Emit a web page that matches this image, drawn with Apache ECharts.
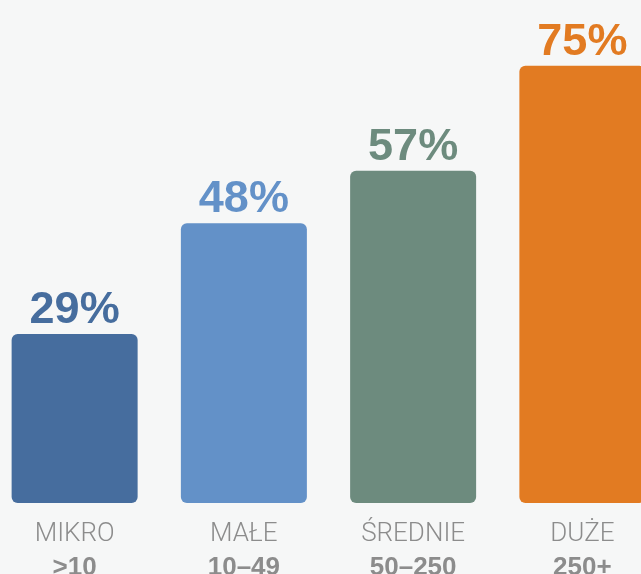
<!DOCTYPE html>
<html>
<head>
<meta charset="utf-8">
<script src="https://cdn.jsdelivr.net/npm/echarts@6/dist/echarts.min.js"></script>
<style>
  html, body { margin: 0; padding: 0; background: #f6f7f7; overflow: hidden; }
  body { width: 641px; height: 574px; position: relative; }
  #chart { position: absolute; left: -10px; top: 0; width: 677px; height: 574px; }
</style>
</head>
<body>
<div id="chart"></div>
<script>
const categories = ['MIKRO', 'MAŁE', 'ŚREDNIE', 'DUŻE'];
const ranges = ['>10', '10–49', '50–250', '250+'];
const values = [29, 48, 57, 75];

const COLORS = ['#466d9e', '#6391c8', '#6d8b7e', '#e27b22'];

const chart = echarts.init(document.getElementById('chart'));

const option = {
  backgroundColor: '#f6f7f7',
  animation: false,
  grid: {
    left: 0,
    right: 0,
    top: 0,
    bottom: 71,
    outerBoundsMode: 'none',
    containLabel: false,
  },
  xAxis: {
    type: 'category',
    data: categories,
    axisLine: { show: false },
    axisTick: { show: false },
    axisLabel: {
      margin: 14,
      interval: 0,
      formatter: (value, index) => `{a|${value}}\n{b|${ranges[index]}}`,
      rich: {
        a: {
          fontFamily: 'Roboto',
          fontWeight: 300,
          fontSize: 26,
          lineHeight: 34,
          color: '#8c8c8c',
        },
        b: {
          fontFamily: 'Liberation Sans',
          fontWeight: 'bold',
          fontSize: 26,
          lineHeight: 34,
          color: '#8c8c8c',
        },
      },
    },
  },
  yAxis: {
    type: 'value',
    min: 0,
    max: 86.3,
    show: false,
    splitLine: { show: false },
  },
  series: [
    {
      type: 'bar',
      barWidth: 126,
      data: values.map((v, i) => ({
        value: v,
        itemStyle: { color: COLORS[i], borderRadius: 6 },
        label: { color: COLORS[i] },
      })),
      label: {
        show: true,
        position: 'top',
        distance: 1,
        formatter: '{c}%',
        fontFamily: 'Liberation Sans',
        fontWeight: 'bold',
        fontSize: 45,
        letterSpacing: 2,
      },
    },
  ],
};

chart.setOption(option);
</script>
</body>
</html>
